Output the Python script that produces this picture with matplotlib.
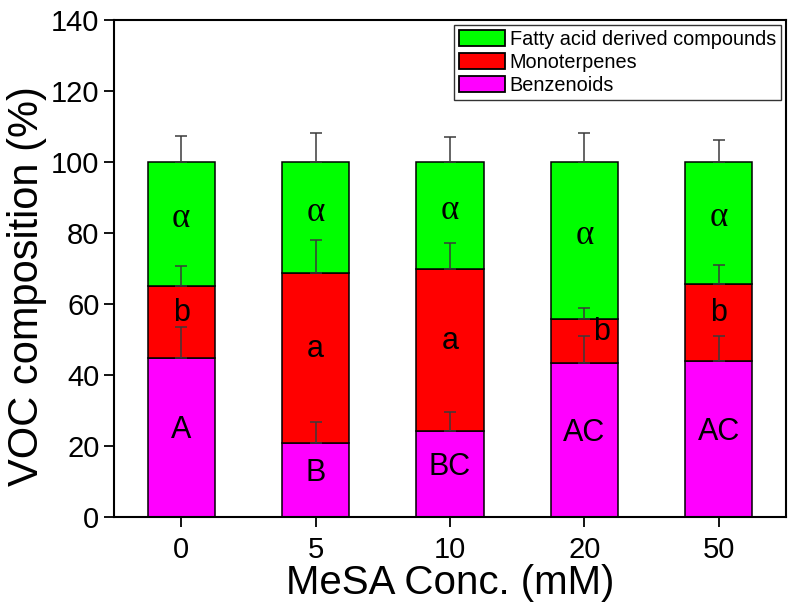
import matplotlib
matplotlib.use("Agg")
import matplotlib.pyplot as plt
import numpy as np

plt.rcParams["font.family"] = ["Liberation Sans", "DejaVu Sans"]

concs = ["0", "5", "10", "20", "50"]
benzenoids = [44.8, 20.9, 24.1, 43.3, 44.0]
benz_err = [8.7, 5.9, 5.4, 7.8, 6.9]
monoterpenes = [20.3, 47.8, 45.8, 12.5, 21.7]
mono_err = [5.6, 9.3, 7.2, 3.1, 5.2]
fatty = [34.9, 31.3, 30.1, 44.2, 34.3]
fatty_err = [7.3, 8.1, 7.0, 8.1, 6.2]

benz_letters = ["A", "B", "BC", "AC", "AC"]
mono_letters = ["b", "a", "a", "b", "b"]
fatty_letters = ["\u03b1"] * 5

x = np.arange(len(concs))
width = 0.5

fig = plt.figure(figsize=(8, 6.13), dpi=100)
ax = fig.add_axes([0.1425, 0.1566, 0.84, 0.8108])

bottom_m = np.array(benzenoids)
bottom_f = bottom_m + np.array(monoterpenes)
err_kw = dict(ecolor="#3a3a3a", elinewidth=1.1, capsize=4, capthick=1.1)

ax.bar(x, benzenoids, width, color="#ff00ff", edgecolor="black", linewidth=1.1,
       label="Benzenoids", zorder=2)
ax.bar(x, monoterpenes, width, bottom=bottom_m, color="#ff0000", edgecolor="black",
       linewidth=1.1, label="Monoterpenes", zorder=2)
ax.bar(x, fatty, width, bottom=bottom_f, color="#00ff00", edgecolor="black",
       linewidth=1.1, label="Fatty acid derived compounds", zorder=2)

# upper error bars only
ax.errorbar(x, bottom_m, yerr=[np.zeros(5), benz_err], fmt="none", zorder=3, **err_kw)
ax.errorbar(x, bottom_f, yerr=[np.zeros(5), mono_err], fmt="none", zorder=3, **err_kw)
ax.errorbar(x, bottom_f + np.array(fatty), yerr=[np.zeros(5), fatty_err], fmt="none",
            zorder=3, **err_kw)

# significance letters, roughly centred in each segment
for i in range(len(x)):
    ax.text(x[i], benzenoids[i] / 2 + 2, benz_letters[i], ha="center", va="center",
            fontsize=22, zorder=4)
    dx = 0.13 if i == 3 else 0
    ax.text(x[i] + dx, bottom_m[i] + monoterpenes[i] / 2 + 2.5, mono_letters[i],
            ha="center", va="center", fontsize=22, zorder=4)
    ax.text(x[i], bottom_f[i] + fatty[i] / 2 + 1.5, fatty_letters[i], ha="center",
            va="center", fontsize=25, family="Liberation Serif", zorder=4)

ax.set_xlim(-0.5, 4.5)
ax.set_ylim(0, 140)
ax.set_xticks(x)
ax.set_xticklabels(concs)
ax.set_yticks(np.arange(0, 141, 20))
ax.tick_params(axis="both", direction="out", length=7, width=1.3, labelsize=21)
ax.tick_params(axis="x", pad=7)
ax.tick_params(top=False, right=False)
for s in ax.spines.values():
    s.set_linewidth(1.5)

ax.set_xlabel("MeSA Conc. (mM)", fontsize=29, labelpad=0)
ax.set_ylabel("VOC composition (%)", fontsize=30)
ax.yaxis.set_label_coords(-0.1, 0.465)

handles, labels = ax.get_legend_handles_labels()
leg = ax.legend(handles[::-1], labels[::-1], loc="upper right", fontsize=14.3,
                frameon=True, fancybox=False, edgecolor="black", handlelength=2.3,
                handleheight=0.8, labelspacing=0.2, borderaxespad=0.25,
                handletextpad=0.25, borderpad=0.25)
leg.get_frame().set_linewidth(1.0)
for h in leg.legend_handles:
    h.set_linewidth(1.3)

fig.savefig("out.png", dpi=100)
